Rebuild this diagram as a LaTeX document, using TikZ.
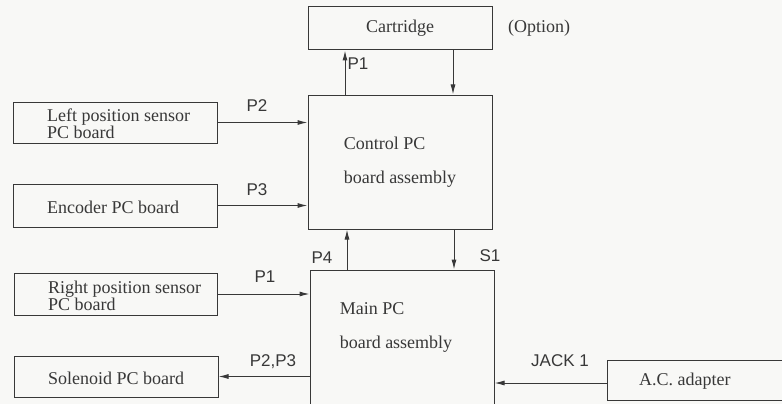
\documentclass[tikz,border=0pt]{standalone}
\usepackage{fontspec}
\setmainfont{Liberation Serif}
\newfontfamily\lblfont{Liberation Sans}
\usetikzlibrary{arrows.meta}
\definecolor{ink}{HTML}{383838}
\definecolor{paper}{HTML}{F8F8F6}
\begin{document}
\begin{tikzpicture}[x=1pt,y=-1pt,
  box/.style={draw=ink,line width=1pt,inner sep=0pt,text=ink,align=left,
    font=\fontsize{18}{17}\selectfont},
  txt/.style={inner sep=0pt,text=ink,align=left,font=\fontsize{18}{17}\selectfont},
  arr/.style={draw=ink,line width=1pt,-{Latex[length=10pt,width=5pt]}},
  lbl/.style={inner sep=0pt,text=ink,font=\lblfont\fontsize{17}{17}\selectfont}]
\clip (0,0) rectangle (782,404);
\fill[paper] (0,0) rectangle (782,404);
% boxes
\node[box,minimum width=184pt,minimum height=43pt] (cart) at (400,28.5) {Cartridge};
\node[box,minimum width=184pt,minimum height=134pt] (ctrl) at (400,162) {Control PC\\[17pt]board assembly};
\node[box,minimum width=184pt,minimum height=180pt] (main) at (402,360) {};
\node[txt] (maintext) at (396,327) {Main PC\\[17pt]board assembly};
\node[box,minimum width=204pt,minimum height=41pt] (lps) at (115,122.5) {};
\node[txt,anchor=west] (lpst) at (47,124) {Left position sensor\\PC board};
\node[box,minimum width=204pt,minimum height=43pt] (enc) at (115,205.5) {};
\node[txt,anchor=west] (enct) at (47,207) {Encoder PC board};
\node[box,minimum width=203pt,minimum height=42pt] (rps) at (115.5,294) {};
\node[txt,anchor=west] (rpst) at (48,295.5) {Right position sensor\\PC board};
\node[box,minimum width=204pt,minimum height=41pt] (sol) at (116,376.5) {};
\node[txt,anchor=west] (solt) at (48,378) {Solenoid PC board};
\node[box,minimum width=193pt,minimum height=40pt] (ac) at (703.5,380) {};
\node[txt,anchor=west] (act) at (639,381) {A.C. adapter};
\node[txt] (opt) at (539,28) {(Option)};
% connectors
\draw[arr] ([xshift=-55pt]ctrl.north) -- ([xshift=-55pt]cart.south);
\draw[arr] ([xshift=53pt]cart.south) -- ([xshift=53pt]ctrl.north);
\draw[arr] (lps.east) -- (lps.east -| ctrl.west);
\draw[arr] (enc.east) -- (enc.east -| ctrl.west);
\draw[arr] ([xshift=-55pt]main.north) -- ([xshift=-55pt]main.north |- ctrl.south);
\draw[arr] ([xshift=54pt]ctrl.south) -- ([xshift=54pt]ctrl.south |- main.north);
\draw[arr] (rps.east) -- (rps.east -| main.west);
\draw[arr] (sol.east -| main.west) -- (sol.east);
\draw[arr] ([yshift=-3pt]ac.west) -- ([yshift=-3pt]ac.west -| main.east);
% labels
\node[lbl] (lp1a) at (358,64) {P1};
\node[lbl] (lp2) at (257,106) {P2};
\node[lbl] (lp3) at (257,190) {P3};
\node[lbl] (lp1b) at (265,277) {P1};
\node[lbl] (lp23) at (273,362) {P2,P3};
\node[lbl] (lp4) at (322,258) {P4};
\node[lbl] (ls1) at (490,256) {S1};
\node[lbl] (ljack) at (560,361) {JACK 1};
\end{tikzpicture}
\end{document}
